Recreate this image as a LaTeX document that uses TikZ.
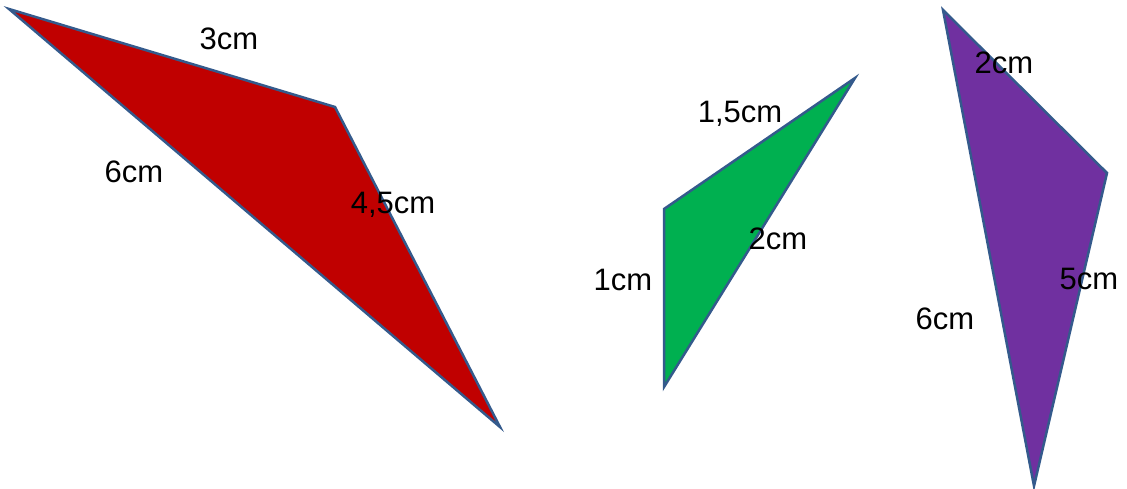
\documentclass[tikz,border=0pt]{standalone}
\usepackage{fontspec}
\setmainfont{Liberation Sans}
\definecolor{redfill}{RGB}{192,0,0}
\definecolor{greenfill}{RGB}{0,176,80}
\definecolor{purplefill}{RGB}{112,48,160}
\definecolor{edge}{RGB}{52,90,140}
\tikzset{
  tri/.style={draw=edge, line width=2.5pt, line join=miter},
  lbl/.style={inner sep=0pt, anchor=base, font=\fontsize{31}{35}\selectfont}
}
\begin{document}
\begin{tikzpicture}[x=1pt,y=-1pt]
\useasboundingbox (0,0) rectangle (1127,489);
% red triangle
\coordinate (rA) at (9,9);
\coordinate (rB) at (335,107);
\coordinate (rC) at (500,427);
\draw[tri, fill=redfill] (rA) -- (rB) -- (rC) -- cycle;
% green triangle
\coordinate (gA) at (664,209);
\coordinate (gB) at (855,78);
\coordinate (gC) at (664,387);
\draw[tri, fill=greenfill] (gA) -- (gB) -- (gC) -- cycle;
% purple triangle
\coordinate (pA) at (943,10);
\coordinate (pB) at (1107,173);
\coordinate (pC) at (1034,486);
\draw[tri, fill=purplefill] (pA) -- (pB) -- (pC) -- cycle;
% labels
\node[lbl] (l1) at (229,50) {3cm};
\node[lbl] (l2) at (134,183) {6cm};
\node[lbl] (l3) at (393,214) {4,5cm};
\node[lbl] (l4) at (740,123) {1,5cm};
\node[lbl] (l5) at (778,250) {2cm};
\node[lbl] (l6) at (623,290) {1cm};
\node[lbl] (l7) at (1004,74) {2cm};
\node[lbl] (l8) at (1089,289) {5cm};
\node[lbl] (l9) at (945,329) {6cm};
\end{tikzpicture}
\end{document}
